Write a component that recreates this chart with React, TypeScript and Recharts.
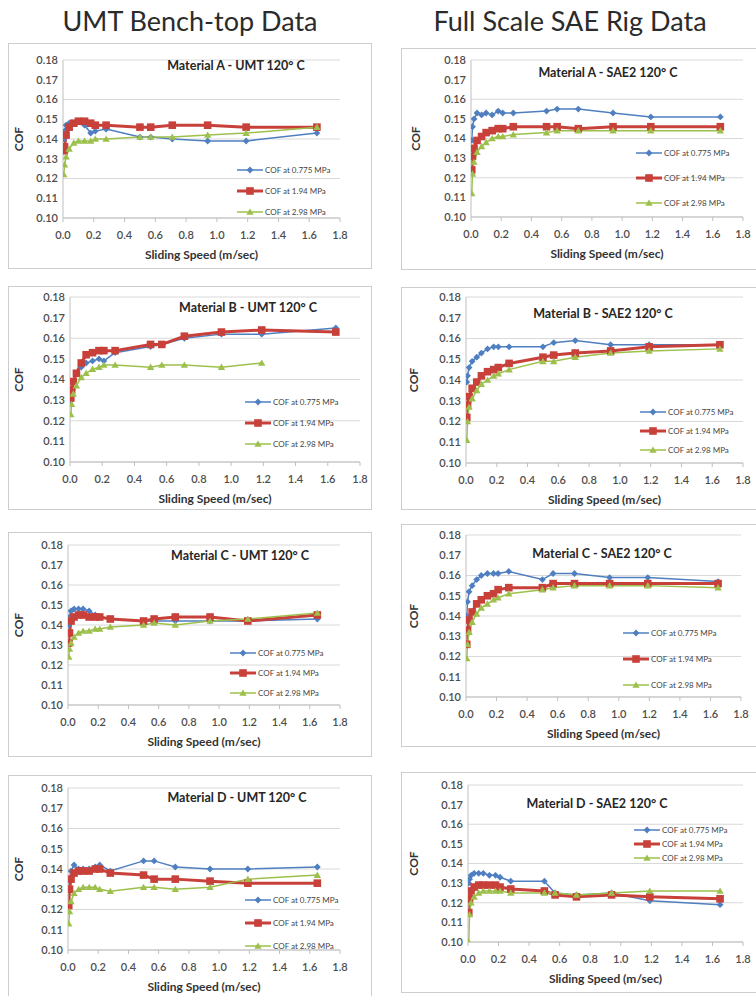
import { LineChart, Line, XAxis, YAxis, CartesianGrid, Legend, Label } from "recharts";

// sliding speed (m/sec) at each measured point
const SPEED = [0.005, 0.01, 0.02, 0.04, 0.07, 0.1, 0.14, 0.18, 0.21, 0.28, 0.5, 0.57, 0.71, 0.94, 1.19, 1.65];
const X_TICKS = [0, 0.2, 0.4, 0.6, 0.8, 1.0, 1.2, 1.4, 1.6, 1.8];
const Y_TICKS = [0.1, 0.11, 0.12, 0.13, 0.14, 0.15, 0.16, 0.17, 0.18];
const SERIES_NAMES = ["COF at 0.775 MPa", "COF at 1.94 MPa", "COF at 2.98 MPa"];
const HEADERS = ["UMT Bench-top Data", "Full Scale SAE Rig Data"];
const TITLES = [
  "Material A - UMT 120° C",
  "Material A - SAE2 120° C",
  "Material B - UMT 120° C",
  "Material B - SAE2 120° C",
  "Material C - UMT 120° C",
  "Material C - SAE2 120° C",
  "Material D - UMT 120° C",
  "Material D - SAE2 120° C",
];

// Material A
const UMT_A_LOW = [0.14, 0.144, 0.147, 0.148, 0.148, 0.149, 0.147, 0.143, 0.144, 0.145, 0.141, 0.141, 0.14, 0.139, 0.139, 0.143];
const UMT_A_MID = [0.134, 0.136, 0.142, 0.146, 0.148, 0.149, 0.149, 0.148, 0.147, 0.147, 0.146, 0.146, 0.147, 0.147, 0.146, 0.146];
const UMT_A_HIGH = [0.122, 0.127, 0.131, 0.135, 0.138, 0.139, 0.139, 0.139, 0.14, 0.14, 0.141, 0.141, 0.141, 0.142, 0.143, 0.146];
const SAE_A_LOW = [0.139, 0.146, 0.15, 0.153, 0.152, 0.153, 0.152, 0.154, 0.153, 0.153, 0.154, 0.155, 0.155, 0.153, 0.151, 0.151];
const SAE_A_MID = [0.124, 0.131, 0.135, 0.139, 0.141, 0.143, 0.144, 0.145, 0.145, 0.146, 0.146, 0.146, 0.145, 0.146, 0.146, 0.146];
const SAE_A_HIGH = [0.112, 0.122, 0.128, 0.133, 0.136, 0.138, 0.14, 0.141, 0.141, 0.142, 0.143, 0.144, 0.144, 0.144, 0.144, 0.144];

// Material B
const UMT_B_LOW = [0.13, 0.135, 0.139, 0.143, 0.146, 0.148, 0.149, 0.15, 0.149, 0.153, 0.156, 0.157, 0.16, 0.162, 0.162, 0.165];
const UMT_B_MID = [0.131, 0.135, 0.139, 0.143, 0.148, 0.152, 0.153, 0.154, 0.154, 0.154, 0.157, 0.157, 0.161, 0.163, 0.164, 0.163];
const UMT_B_HIGH = [0.123, 0.128, 0.133, 0.137, 0.141, 0.143, 0.145, 0.146, 0.147, 0.147, 0.146, 0.147, 0.147, 0.146, 0.148, null];
const SAE_B_LOW = [0.139, 0.142, 0.146, 0.149, 0.151, 0.153, 0.155, 0.156, 0.156, 0.156, 0.156, 0.158, 0.159, 0.157, 0.157, 0.157];
const SAE_B_MID = [0.122, 0.128, 0.132, 0.136, 0.139, 0.142, 0.144, 0.145, 0.146, 0.148, 0.151, 0.152, 0.153, 0.154, 0.156, 0.157];
const SAE_B_HIGH = [0.111, 0.12, 0.127, 0.131, 0.135, 0.138, 0.14, 0.142, 0.143, 0.145, 0.149, 0.149, 0.151, 0.153, 0.154, 0.155];

// Material C
const UMT_C_LOW = [0.14, 0.144, 0.147, 0.148, 0.148, 0.148, 0.147, 0.145, 0.144, 0.143, 0.142, 0.142, 0.142, 0.142, 0.142, 0.143];
const UMT_C_MID = [0.131, 0.136, 0.142, 0.144, 0.145, 0.145, 0.144, 0.144, 0.144, 0.143, 0.142, 0.143, 0.144, 0.144, 0.142, 0.145];
const UMT_C_HIGH = [0.124, 0.128, 0.131, 0.134, 0.136, 0.137, 0.137, 0.138, 0.138, 0.139, 0.14, 0.141, 0.14, 0.142, 0.143, 0.146];
const SAE_C_LOW = [0.14, 0.147, 0.152, 0.155, 0.158, 0.16, 0.161, 0.161, 0.161, 0.162, 0.158, 0.161, 0.161, 0.159, 0.159, 0.157];
const SAE_C_MID = [0.126, 0.133, 0.138, 0.142, 0.146, 0.148, 0.15, 0.151, 0.153, 0.154, 0.154, 0.156, 0.156, 0.156, 0.156, 0.156];
const SAE_C_HIGH = [0.119, 0.126, 0.132, 0.137, 0.141, 0.144, 0.146, 0.148, 0.149, 0.151, 0.153, 0.154, 0.155, 0.155, 0.155, 0.154];

// Material D
const UMT_D_LOW = [0.13, 0.135, 0.139, 0.142, 0.14, 0.14, 0.14, 0.141, 0.142, 0.139, 0.144, 0.144, 0.141, 0.14, 0.14, 0.141];
const UMT_D_MID = [0.122, 0.13, 0.135, 0.138, 0.139, 0.139, 0.139, 0.14, 0.14, 0.138, 0.137, 0.135, 0.135, 0.134, 0.133, 0.133];
const UMT_D_HIGH = [0.113, 0.119, 0.124, 0.128, 0.13, 0.131, 0.131, 0.131, 0.13, 0.129, 0.131, 0.131, 0.13, 0.131, 0.135, 0.137];
const SAE_D_LOW = [0.13, 0.132, 0.134, 0.135, 0.135, 0.135, 0.134, 0.134, 0.133, 0.131, 0.131, 0.125, 0.124, 0.125, 0.121, 0.119];
const SAE_D_MID = [0.115, 0.122, 0.126, 0.128, 0.129, 0.129, 0.129, 0.129, 0.128, 0.127, 0.126, 0.124, 0.123, 0.124, 0.123, 0.122];
const SAE_D_HIGH = [0.1, 0.114, 0.12, 0.123, 0.125, 0.126, 0.126, 0.126, 0.126, 0.125, 0.125, 0.125, 0.124, 0.125, 0.126, 0.126];

const PANEL_DATA = [
  [UMT_A_LOW, UMT_A_MID, UMT_A_HIGH],
  [SAE_A_LOW, SAE_A_MID, SAE_A_HIGH],
  [UMT_B_LOW, UMT_B_MID, UMT_B_HIGH],
  [SAE_B_LOW, SAE_B_MID, SAE_B_HIGH],
  [UMT_C_LOW, UMT_C_MID, UMT_C_HIGH],
  [SAE_C_LOW, SAE_C_MID, SAE_C_HIGH],
  [UMT_D_LOW, UMT_D_MID, UMT_D_HIGH],
  [SAE_D_LOW, SAE_D_MID, SAE_D_HIGH],
];

// page positions: box [x, y, w, h], plot [x0, y0, x1, y1], title [cx, top], legend [x, top, gap], cof label x
const LAYOUT = [
  { box: [8, 43, 364, 226], plot: [63, 60, 340, 218], title: [236, 58], legend: [237, 165, 11], cof: 18 },
  { box: [401, 48, 380, 222], plot: [471, 60, 743, 217], title: [608, 65], legend: [636, 148, 15], cof: 415 },
  { box: [8, 286, 364, 224], plot: [70, 297, 360, 462], title: [248, 300], legend: [245, 397, 11], cof: 18 },
  { box: [401, 287, 380, 223], plot: [466, 297, 743, 463], title: [603, 306], legend: [640, 407, 9], cof: 413 },
  { box: [8, 532, 364, 225], plot: [68, 545, 340, 705], title: [240, 548], legend: [230, 648, 10], cof: 18 },
  { box: [401, 524, 380, 223], plot: [466, 535, 741, 697], title: [602, 546], legend: [623, 628, 16], cof: 413 },
  { box: [8, 775, 364, 225], plot: [68, 788, 340, 950], title: [237, 790], legend: [245, 895, 13], cof: 18 },
  { box: [401, 772, 380, 221], plot: [468, 785, 743, 942], title: [597, 796], legend: [634, 825, 4], cof: 413 },
];

const SERIES = [
  { key: "low", color: "#4f7fc0", width: 1.5, shape: "diamond" },
  { key: "mid", color: "#c8403a", width: 3, shape: "square" },
  { key: "high", color: "#9dc04c", width: 1.5, shape: "triangle" },
];

const YW = 30;
const XH = 28;

function Marker({ shape, cx, cy, color }: any) {
  if (shape === "diamond")
    return <path d={`M${cx},${cy - 3.4}L${cx + 3.4},${cy}L${cx},${cy + 3.4}L${cx - 3.4},${cy}Z`} fill={color} />;
  if (shape === "square") return <rect x={cx - 3.8} y={cy - 3.8} width={7.6} height={7.6} fill={color} />;
  return <path d={`M${cx},${cy - 3.6}L${cx + 3.7},${cy + 2.8}L${cx - 3.7},${cy + 2.8}Z`} fill={color} />;
}

function Panel({ idx }: { idx: number }) {
  const L = LAYOUT[idx];
  const [bx, by, bw, bh] = L.box;
  const [px0, py0, px1, py1] = L.plot;
  const values = PANEL_DATA[idx];
  const rows = SPEED.map((s, i) => ({ s, low: values[0][i], mid: values[1][i], high: values[2][i] }));
  const margin = {
    top: py0 - by,
    bottom: by + bh - py1 - XH,
    left: px0 - bx - YW,
    right: bx + bw - px1,
  };
  const [lx, ly, gap] = L.legend;

  return (
    <div style={{ position: "absolute", left: bx, top: by, width: bw, height: bh }}>
      <div style={{ position: "absolute", inset: 0, border: "1.5px solid #cdcdcd", boxSizing: "border-box" }} />
      <LineChart width={bw} height={bh} data={rows} margin={margin}>
        <CartesianGrid vertical={false} stroke="#d9d9d9" />
        <XAxis
          dataKey="s"
          type="number"
          domain={[0, 1.8]}
          ticks={X_TICKS}
          tickFormatter={(v: number) => v.toFixed(1)}
          height={XH}
          stroke="#bfbfbf"
          tickSize={4}
          tickMargin={9}
          tick={{ fontSize: 11, fill: "#4d4d4d", fontWeight: 600 }}
          allowDataOverflow
        >
          <Label value="Sliding Speed (m/sec)" position="bottom" offset={4} style={{ fontSize: 12, fontWeight: 700, fill: "#333" }} />
        </XAxis>
        <YAxis
          type="number"
          domain={[0.1, 0.18]}
          ticks={Y_TICKS}
          tickFormatter={(v: number) => v.toFixed(2)}
          width={YW}
          stroke="#bfbfbf"
          tickLine={false}
          tickSize={0}
          tickMargin={5}
          tick={{ fontSize: 11, fill: "#4d4d4d", fontWeight: 600 }}
          allowDataOverflow
        >
          <Label
            content={() => {
              const x = L.cof - bx;
              const y = (py0 + py1) / 2 - by;
              return (
                <text x={x} y={y} transform={`rotate(-90 ${x} ${y})`} textAnchor="middle" dominantBaseline="central" fontSize={12} fontWeight={700} fill="#333">
                  COF
                </text>
              );
            }}
          />
        </YAxis>
        {SERIES.map((s, k) => (
          <Line
            key={s.key}
            dataKey={s.key}
            name={SERIES_NAMES[k]}
            type="linear"
            stroke={s.color}
            strokeWidth={s.width}
            isAnimationActive={false}
            connectNulls={false}
            dot={(p: any) =>
              p.cy == null || p.cx == null ? (
                <g key={`d${k}-${p.index}`} />
              ) : (
                <Marker key={`d${k}-${p.index}`} shape={s.shape} cx={p.cx} cy={p.cy} color={s.color} />
              )
            }
            activeDot={false}
          />
        ))}
        <Legend
          layout="vertical"
          align="center"
          verticalAlign="middle"
          wrapperStyle={{ left: lx - bx, top: ly - by, width: "auto", height: "auto" }}
          content={() => (
            <div style={{ display: "flex", flexDirection: "column", gap }}>
              {SERIES.map((s, k) => (
                <div key={s.key} style={{ display: "flex", alignItems: "center", height: 10 }}>
                  <svg width={26} height={10}>
                    <line x1={0} y1={5} x2={26} y2={5} stroke={s.color} strokeWidth={s.width} />
                    <Marker shape={s.shape} cx={13} cy={5} color={s.color} />
                  </svg>
                  <span style={{ fontSize: 8, color: "#444", marginLeft: 2, whiteSpace: "nowrap" }}>{SERIES_NAMES[k]}</span>
                </div>
              ))}
            </div>
          )}
        />
      </LineChart>
      <div
        style={{
          position: "absolute",
          left: L.title[0] - bx - 120,
          top: L.title[1] - by,
          width: 240,
          textAlign: "center",
          fontSize: 12.5,
          fontWeight: 700,
          color: "#262626",
          whiteSpace: "nowrap",
        }}
      >
        {TITLES[idx]}
      </div>
    </div>
  );
}

export default function App() {
  return (
    <div
      style={{
        position: "absolute",
        left: 0,
        top: 0,
        width: 756,
        height: 996,
        overflow: "hidden",
        background: "#fff",
        fontFamily: "Lato, 'Open Sans', sans-serif",
      }}
    >
      <div style={{ position: "absolute", left: 0, top: 4, width: 380, textAlign: "center", fontSize: 27, color: "#2b2b2b" }}>
        {HEADERS[0]}
      </div>
      <div style={{ position: "absolute", left: 380, top: 4, width: 380, textAlign: "center", fontSize: 27, color: "#2b2b2b" }}>
        {HEADERS[1]}
      </div>
      {LAYOUT.map((_, i) => (
        <Panel key={i} idx={i} />
      ))}
    </div>
  );
}
